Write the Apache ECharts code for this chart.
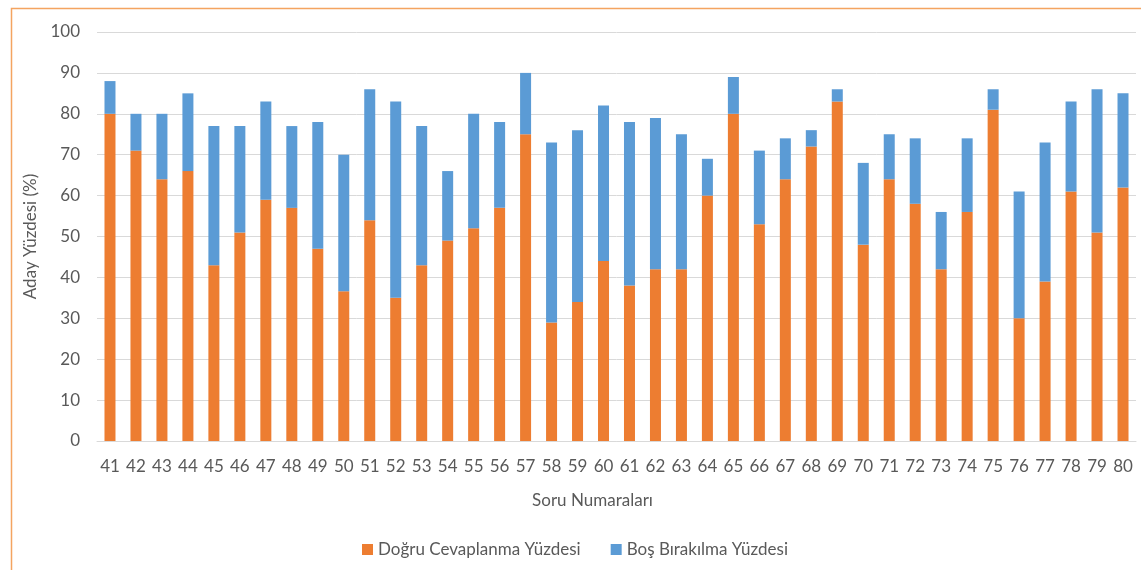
<!DOCTYPE html>
<html lang="tr">

<head>
    <meta charset="utf-8">
    <title>Soru Numaraları</title>
    <style>
        html, body {
            margin: 0;
            padding: 0;
            background: #fff;
        }
        #main {
            width: 1141px;
            height: 570px;
        }
    </style>
</head>

<body>
    <div id="main"></div>
    <script src="https://cdn.jsdelivr.net/npm/echarts@6/dist/echarts.min.js"></script>
    <script>
    // soru numaralari
    var questions = ['41', '42', '43', '44', '45', '46', '47', '48', '49', '50',
        '51', '52', '53', '54', '55', '56', '57', '58', '59', '60',
        '61', '62', '63', '64', '65', '66', '67', '68', '69', '70',
        '71', '72', '73', '74', '75', '76', '77', '78', '79', '80'];

    // dogru cevaplanma yuzdesi
    var correctPct = [80, 71, 64, 66, 43, 51, 59, 57, 47, 36.6,
        54, 35, 43, 49, 52, 57, 75, 29, 34, 44,
        38, 42, 42, 60, 80, 53, 64, 72, 83, 48,
        64, 58, 42, 56, 81, 30, 39, 61, 51, 62];

    // bos birakilma yuzdesi
    var blankPct = [8, 9, 16, 19, 34, 26, 24, 20, 31, 33.4,
        32, 48, 34, 17, 28, 21, 15, 44, 42, 38,
        40, 37, 33, 9, 9, 18, 10, 4, 3, 20,
        11, 16, 14, 18, 5, 31, 34, 22, 35, 23];

    var SERIES_NAMES = ['Doğru Cevaplanma Yüzdesi', 'Boş Bırakılma Yüzdesi'];
    var COLORS = ['#ED7D31', '#5B9BD5'];
    var FONT = 'Lato';
    var TEXT_COLOR = '#595959';

    var chart = echarts.init(document.getElementById('main'));

    var option = {
        animation: false,
        textStyle: {
            fontFamily: FONT,
            color: TEXT_COLOR
        },
        graphic: [{
            // kenarlik
            type: 'rect',
            left: 9,
            top: 6,
            shape: { width: 1200, height: 640 },
            style: { fill: 'none', stroke: '#F4A460', lineWidth: 1.5 },
            silent: true
        }],
        legend: {
            data: SERIES_NAMES,
            left: 357,
            top: 536,
            itemWidth: 11,
            itemHeight: 11,
            itemGap: 30,
            icon: 'rect',
            textStyle: {
                fontFamily: FONT,
                fontSize: 17,
                color: TEXT_COLOR
            }
        },
        grid: {
            left: 97,
            right: 5,
            top: 32,
            bottom: 129
        },
        xAxis: {
            type: 'category',
            data: questions,
            name: 'Soru Numaraları',
            nameLocation: 'middle',
            nameGap: 51,
            nameTextStyle: {
                fontFamily: FONT,
                fontSize: 17,
                color: TEXT_COLOR,
                padding: [0, 48, 0, 0]
            },
            axisLine: { lineStyle: { color: '#D9D9D9', width: 1 } },
            axisTick: { show: false },
            axisLabel: {
                interval: 0,
                margin: 17,
                fontSize: 17,
                color: TEXT_COLOR
            }
        },
        yAxis: {
            type: 'value',
            min: 0,
            max: 100,
            interval: 10,
            name: 'Aday Yüzdesi (%)',
            nameLocation: 'middle',
            nameGap: 58,
            nameTextStyle: {
                fontFamily: FONT,
                fontSize: 17,
                color: TEXT_COLOR
            },
            axisLine: { show: false },
            axisTick: { show: false },
            axisLabel: {
                margin: 17,
                fontSize: 17,
                color: TEXT_COLOR
            },
            splitLine: { lineStyle: { color: '#D9D9D9', width: 1 } }
        },
        series: [{
            name: SERIES_NAMES[0],
            type: 'bar',
            stack: 'total',
            barWidth: 11,
            itemStyle: { color: COLORS[0] },
            data: correctPct
        }, {
            name: SERIES_NAMES[1],
            type: 'bar',
            stack: 'total',
            barWidth: 11,
            itemStyle: { color: COLORS[1] },
            data: blankPct
        }]
    };

    chart.setOption(option);
    </script>
</body>

</html>
